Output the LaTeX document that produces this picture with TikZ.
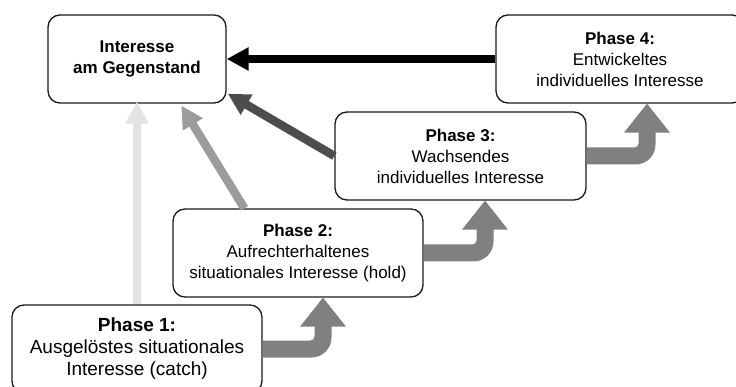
\documentclass[tikz,border=0pt]{standalone}
\usepackage{fontspec}
\setmainfont{Liberation Sans}
\usetikzlibrary{arrows.meta,calc}

\definecolor{boxline}{HTML}{1A1A1A}
\definecolor{stepgray}{HTML}{808080}
\definecolor{lightlink}{HTML}{E3E3E3}
\definecolor{midlink}{HTML}{9C9C9C}
\definecolor{darklink}{HTML}{4D4D4D}

% Bent block arrow leaving #1 to the right and rising into the bottom of #2;
% #3 is the x position (pt) of the rising shaft.
\newcommand\stagestep[3]{%
  \fill[stepgray] let \p1=(#1.east), \p2=(#2.south) in
    ({\x1},{\y1+8.5pt}) -- ({#3pt-12.5pt},{\y1+8.5pt})
    .. controls ({#3pt-10.3pt},{\y1+8.5pt}) and ({#3pt-8.5pt},{\y1+10.3pt}) ..
    ({#3pt-8.5pt},{\y1+12.5pt}) -- ({#3pt-8.5pt},{\y2-29pt})
    -- ({#3pt-23pt},{\y2-29pt}) -- ({#3pt},{\y2}) -- ({#3pt+23pt},{\y2-29pt})
    -- ({#3pt+8.5pt},{\y2-29pt}) -- ({#3pt+8.5pt},{\y1+11.5pt})
    .. controls ({#3pt+8.5pt},{\y1+0.46pt}) and ({#3pt-0.46pt},{\y1-8.5pt}) ..
    ({#3pt-11.5pt},{\y1-8.5pt}) -- ({\x1},{\y1-8.5pt}) -- cycle;}

\begin{document}
\begin{tikzpicture}[x=1pt,y=-1pt,
  stage/.style={draw=boxline, line width=1.3pt, rounded corners=12pt,
    fill=white, minimum width=250pt, minimum height=88pt, inner sep=0pt,
    align=center, font=\fontsize{17}{21}\selectfont},
  link/.style={line width=8.5pt, -{Triangle[width=22pt,length=22pt]}},
]
\useasboundingbox (0,0) rectangle (736,387);
\clip (0,0) rectangle (736,387);

% boxes
\node[stage, minimum width=178pt] (ig) at (137,59)
  {\textbf{Interesse}\\\textbf{am Gegenstand}};
\node[stage, minimum width=248pt] (p4) at (620,59)
  {\textbf{Phase 4:}\\Entwickeltes\\individuelles Interesse};
\node[stage, minimum width=251pt] (p3) at (460.5,156)
  {\textbf{Phase 3:}\\Wachsendes\\individuelles Interesse};
\node[stage] (p2) at (298,253)
  {\textbf{Phase 2:}\\Aufrechterhaltenes\\situationales Interesse (hold)};
\node[stage, font=\fontsize{19}{22}\selectfont] (p1) at (137,349)
  {\textbf{Phase 1:}\\Ausgelöstes situationales\\Interesse (catch)};

% progression between phases
\stagestep{p1}{p2}{323}
\stagestep{p2}{p3}{485}
\stagestep{p3}{p4}{647}

% contributions to the interest in the subject
\draw[link, draw=lightlink, shorten >=-2pt] (p1.north) -- (ig.south);
\draw[link, draw=midlink] ($(p2.north west)+(72,0)$) -- ($(ig.south west)+(134,2)$);
\draw[link, draw=darklink] (p3.west) -- ($(ig.south east)+(1,-10)$);
\draw[link, draw=black] (p4.west) -- (ig.east);
\end{tikzpicture}
\end{document}
